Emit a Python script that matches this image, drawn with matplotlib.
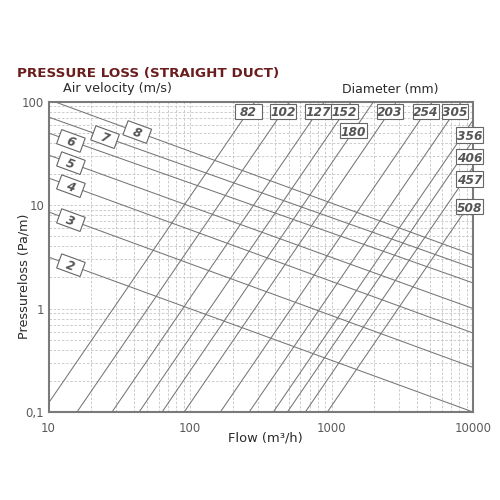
import numpy as np
import matplotlib
matplotlib.use('Agg')
import matplotlib.pyplot as plt
from matplotlib.patches import Rectangle
import matplotlib.transforms as mtransforms

# ---------------- data ----------------
# constant air-velocity lines (m/s): pressure loss at flow = 10 and 10000 m3/h
velocities = [2, 3, 4, 5, 6, 7, 8]
dp_at_flow10 = [3.15, 8.6, 18.3, 30.5, 49.8, 71.1, 105.0]
dp_at_flow10000 = [0.10, 0.27, 0.58, 1.0, 1.77, 2.47, 3.3]

# constant duct-diameter lines (mm): flow at pressure loss 0.1 and 100 Pa/m
diameters = [82, 102, 127, 152, 180, 203, 254, 305, 356, 406, 457, 508]
flow_at_dp01 = [9.06, 15.9, 28.1, 43.7, 63.5, 91, 164, 262, 388, 488, 653, 935]
flow_at_dp100 = [288, 505, 891, 1380, 1980, 2880, 5180, 8300, 12300, 15400, 20700, 29600]

xticks = [10, 100, 1000, 10000]
xticklabels = ['10', '100', '1000', '10000']
yticks = [0.1, 1, 10, 100]
yticklabels = ['0,1', '1', '10', '100']

# ---------------- layout ----------------
line_col = '#767676'
label_col = '#555555'

fig = plt.figure(figsize=(5, 5), dpi=100)
ax = fig.add_axes([0.097, 0.176, 0.849, 0.6206])
ax.set_xscale('log')
ax.set_yscale('log')
ax.set_xlim(10, 10000)
ax.set_ylim(0.1, 100)
ax.set_autoscale_on(False)

ax.grid(which='both', color='#c4c4c4', lw=0.6, dashes=(3, 2))
ax.set_axisbelow(True)
for s in ax.spines.values():
    s.set_color('#7a7a7a')
    s.set_linewidth(1.5)

ax.set_xticks(xticks)
ax.set_xticklabels(xticklabels)
ax.set_yticks(yticks)
ax.set_yticklabels(yticklabels)
ax.tick_params(which='both', length=0, labelsize=8.4, labelcolor='#5a5a5a')
ax.tick_params(axis='x', pad=7)
ax.tick_params(axis='y', pad=3)

# velocity lines
for v, a, b in zip(velocities, dp_at_flow10, dp_at_flow10000):
    ax.plot([10, 10000], [a, b], color=line_col, lw=0.75, zorder=3)

# diameter lines
for d, a, b in zip(diameters, flow_at_dp01, flow_at_dp100):
    ax.plot([a, b], [0.1, 100], color=line_col, lw=0.75, zorder=3)


def add_box(x, y, text, angle, w=0.265, h=0.155):
    tr = (mtransforms.Affine2D().rotate_deg(angle) + fig.dpi_scale_trans +
          mtransforms.ScaledTranslation(x, y, ax.transData))
    r = Rectangle((-w / 2, -h / 2), w, h, transform=tr, facecolor='white',
                  edgecolor='#666666', lw=0.8, zorder=5, clip_on=False)
    ax.add_patch(r)
    ax.text(x, y, text, rotation=angle, rotation_mode='anchor', ha='center',
            va='center_baseline', fontsize=8.7, fontweight='bold', fontstyle='italic',
            color=label_col, zorder=6, clip_on=False)


def log_interp_x(xa, ya, xb, yb, y):
    t = (np.log10(y) - np.log10(ya)) / (np.log10(yb) - np.log10(ya))
    return 10 ** (np.log10(xa) + t * (np.log10(xb) - np.log10(xa)))


def log_interp_y(xa, ya, xb, yb, x):
    t = (np.log10(x) - np.log10(xa)) / (np.log10(xb) - np.log10(xa))
    return 10 ** (np.log10(ya) + t * (np.log10(yb) - np.log10(ya)))


# angle of the velocity lines on screen
p0 = ax.transData.transform((10, dp_at_flow10[0]))
p1 = ax.transData.transform((10000, dp_at_flow10000[0]))
v_angle = np.degrees(np.arctan2(p1[1] - p0[1], p1[0] - p0[0]))

# velocity labels placed on their lines
v_label_flow = [14.4, 14.4, 14.4, 14.4, 14.4, 25.1, 42.4]
for v, a, b, q in zip(velocities, dp_at_flow10, dp_at_flow10000, v_label_flow):
    y = log_interp_y(10, a, 10000, b, q)
    add_box(q, y, str(v), v_angle, w=0.25, h=0.15)

# diameter labels
top_row_dp = {82: 80.7, 102: 80.7, 127: 80.7, 152: 80.7, 180: 52.4,
              203: 80.7, 254: 80.7, 305: 80.7}
right_col_dp = {356: 47.6, 406: 29.5, 457: 17.9, 508: 9.7}
for d, a, b in zip(diameters, flow_at_dp01, flow_at_dp100):
    if d in top_row_dp:
        y = top_row_dp[d]
        x = log_interp_x(a, 0.1, b, 100, y)
    else:
        y = right_col_dp[d]
        x = 9460
    add_box(x, y, str(d), 0)

# texts
fig.text(17 / 500, 1 - 74 / 500, 'PRESSURE LOSS (STRAIGHT DUCT)', ha='left', va='center',
         fontsize=9.7, fontweight='bold', color='#6b1c1c')
fig.text(63 / 500, 1 - 89 / 500, 'Air velocity (m/s)', ha='left', va='center',
         fontsize=9.2, color='#2a2a2a')
fig.text(342 / 500, 1 - 90 / 500, 'Diameter (mm)', ha='left', va='center',
         fontsize=9.0, color='#2a2a2a')
fig.text(24 / 500, 1 - 276 / 500, 'Pressureloss (Pa/m)', rotation=90, ha='center',
         va='center', fontsize=9.2, color='#2a2a2a')
fig.text(265 / 500, 1 - 438 / 500, 'Flow (m³/h)', ha='center', va='center',
         fontsize=9.4, color='#2a2a2a')

fig.savefig('out.png', dpi=100, facecolor='white')
